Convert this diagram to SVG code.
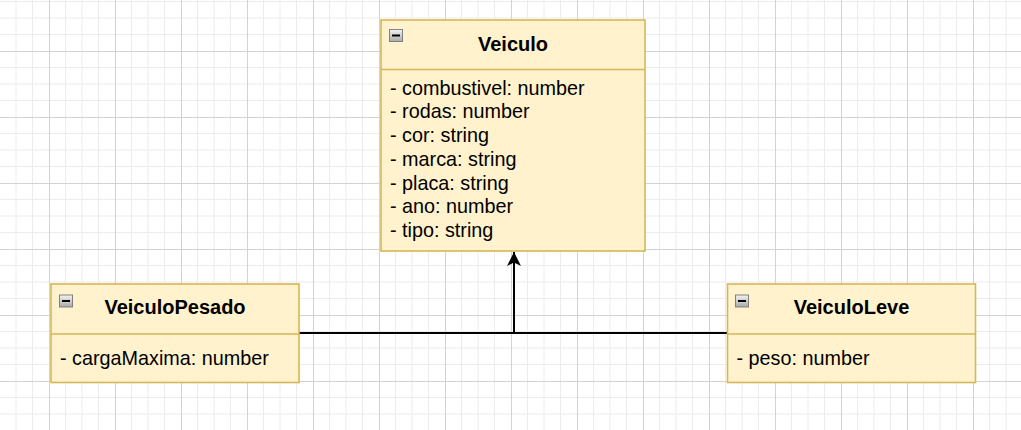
<svg xmlns="http://www.w3.org/2000/svg" width="1021" height="430" viewBox="0 0 1021 430">
<defs>
<pattern id="grid" x="49" y="51" width="66" height="66" patternUnits="userSpaceOnUse">
<path d="M16.5 0V66M33 0V66M49.5 0V66M0 16.5H66M0 33H66M0 49.5H66" stroke="#ececec" stroke-width="1" fill="none"/>
<path d="M0.5 0V66M0 0.5H66" stroke="#d3d3d3" stroke-width="1" fill="none"/>
</pattern>
<linearGradient id="ig" x1="0" y1="0" x2="0" y2="1">
<stop offset="0" stop-color="#f4f4f4"/>
<stop offset="1" stop-color="#a8a8a8"/>
</linearGradient>
<marker id="arrow" viewBox="0 0 14 14" refX="14" refY="7" markerWidth="14" markerHeight="14" markerUnits="userSpaceOnUse" orient="auto">
<path d="M0 0L14 7L0 14L3.5 7Z" fill="#000"/>
</marker>
<g id="icon">
<rect x="0.5" y="0.5" width="13" height="12" fill="url(#ig)" stroke="#808080" stroke-width="1"/>
<rect x="3" y="5.5" width="8" height="2" fill="#000"/>
</g>
</defs>
<style>
.box{fill:#fff2cc;stroke:#d6b656;stroke-width:1.6}
.div{stroke:#d6b656;stroke-width:1.6;fill:none}
.title{font-family:"Liberation Sans",Arial,sans-serif;font-size:20px;font-weight:bold;fill:#000;text-anchor:middle}
.attr{font-family:"Liberation Sans",Arial,sans-serif;font-size:19.8px;fill:#000}
.edge{stroke:#000;stroke-width:2;fill:none}
</style>
<rect width="1021" height="430" fill="#fff"/>
<rect width="1021" height="430" fill="url(#grid)"/>
<g id="connectors">
<path class="edge" d="M299 333H727"/>
<path class="edge" d="M514 333V252" marker-end="url(#arrow)"/>
</g>
<g id="Veiculo">
<rect class="box" x="381" y="20" width="264" height="231"/>
<path class="div" d="M381 69.5H645"/>
<use href="#icon" x="389" y="29"/>
<text class="title" x="513" y="51">Veiculo</text>
<text class="attr" x="390" y="94.7">- combustivel: number</text>
<text class="attr" x="390" y="118.4">- rodas: number</text>
<text class="attr" x="390" y="142.1">- cor: string</text>
<text class="attr" x="390" y="165.8">- marca: string</text>
<text class="attr" x="390" y="189.5">- placa: string</text>
<text class="attr" x="390" y="213.2">- ano: number</text>
<text class="attr" x="390" y="236.9">- tipo: string</text>
</g>
<g id="VeiculoPesado">
<rect class="box" x="51" y="284" width="248" height="98.5"/>
<path class="div" d="M51 334H299"/>
<use href="#icon" x="59" y="294.5"/>
<text class="title" x="175" y="314.3">VeiculoPesado</text>
<text class="attr" x="60" y="365">- cargaMaxima: number</text>
</g>
<g id="VeiculoLeve">
<rect class="box" x="727.5" y="284" width="248" height="98.5"/>
<path class="div" d="M727.5 334H975.5"/>
<use href="#icon" x="735" y="294.5"/>
<text class="title" x="851.5" y="314.3">VeiculoLeve</text>
<text class="attr" x="736.5" y="365">- peso: number</text>
</g>
</svg>
